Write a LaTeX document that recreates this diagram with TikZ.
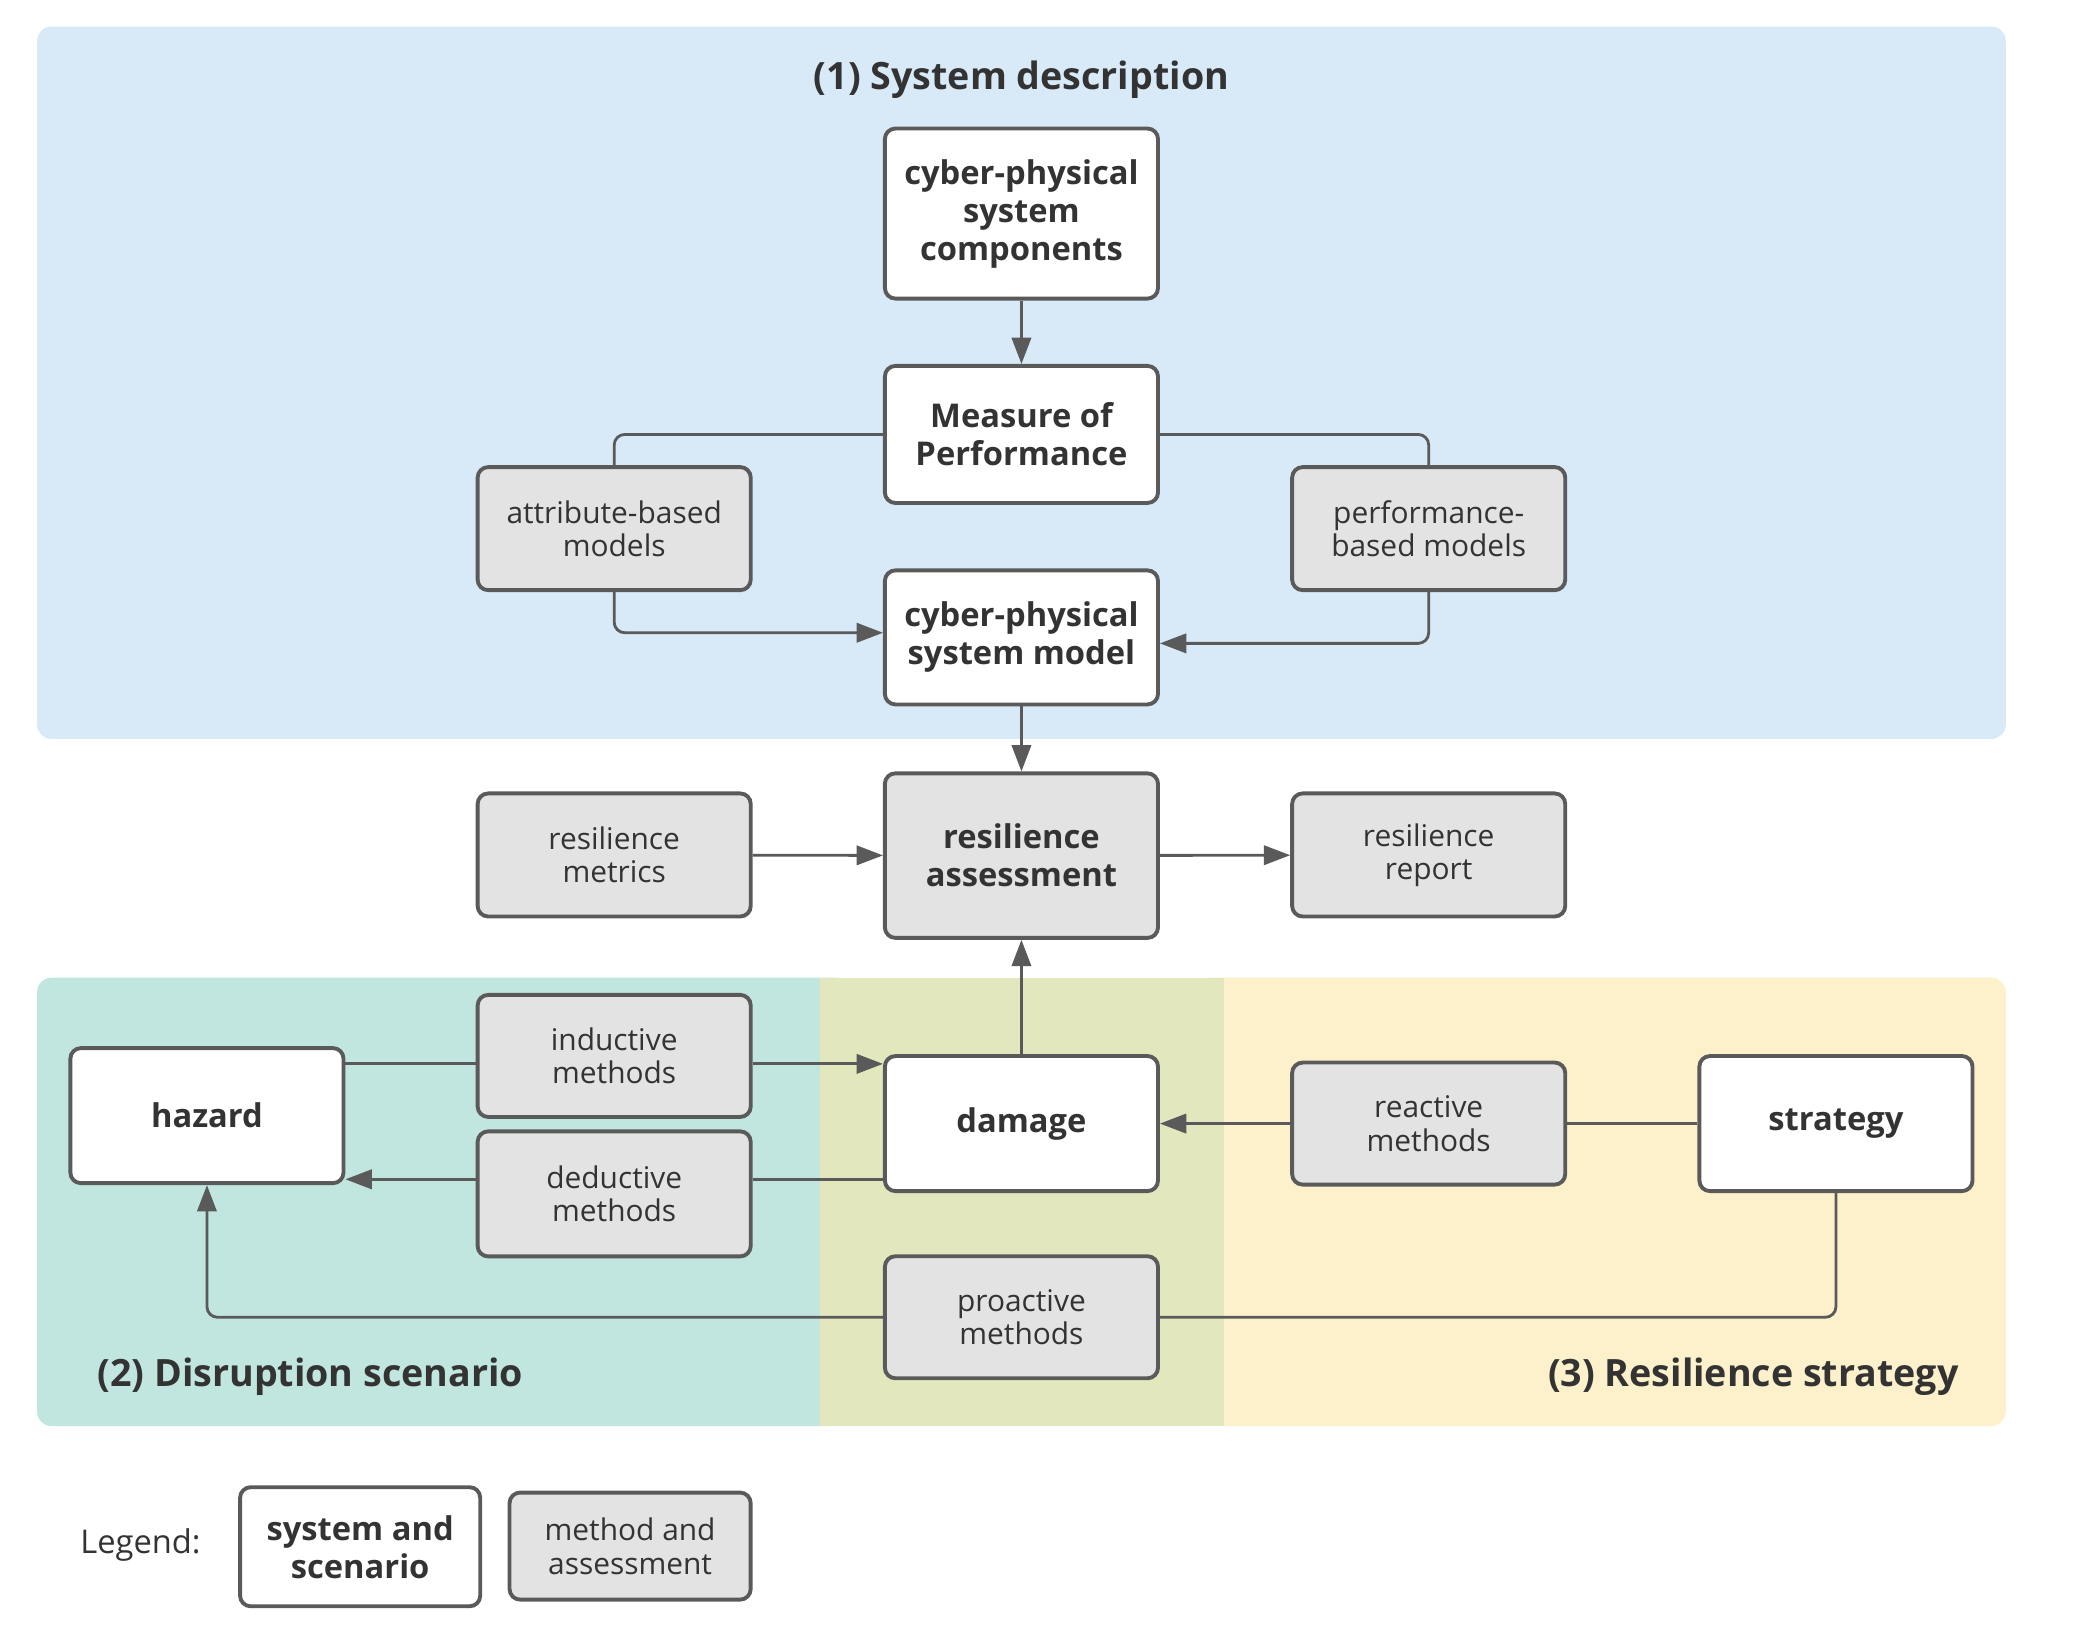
\documentclass[tikz,border=0pt]{standalone}
\usepackage{fontspec}
\setmainfont{Open Sans}
\usetikzlibrary{arrows.meta,calc}

\definecolor{panelblue}{HTML}{D8EAF8}
\definecolor{panelteal}{HTML}{C1E6DF}
\definecolor{paneloverlap}{HTML}{E3E7BD}
\definecolor{panelyellow}{HTML}{FDF1CB}
\definecolor{boxgray}{HTML}{E3E3E3}
\definecolor{linegray}{HTML}{5A5A5A}
\definecolor{textgray}{HTML}{333333}

\tikzset{
    sysbox/.style={draw=linegray, fill=white, line width=1.1pt, rounded corners=3pt,
        minimum width=2.73cm, align=center, inner sep=0pt, text=textgray,
        font=\bfseries\fontsize{9.3}{10.8}\selectfont},
    methbox/.style={sysbox, fill=boxgray, font=\fontsize{8.5}{9.5}\selectfont},
    assessbox/.style={sysbox, fill=boxgray},
    panellabel/.style={text=textgray, inner sep=0pt, font=\bfseries\fontsize{10.7}{12}\selectfont},
    link/.style={draw=linegray, line width=0.8pt, rounded corners=3pt},
}

\begin{document}
\begin{tikzpicture}[x=0.013265cm, y=-0.013265cm,
    >={Triangle[length=7.5pt, width=5.5pt]}]

    \useasboundingbox (0,0) rectangle (1568,1229.6);

    %% Panels

    % (1) System description
    \fill[panelblue, rounded corners=4pt] (28,20) rectangle (1512,557);
    \node[panellabel] (sysdesc) at (770,60) {(1) System description};

    % (2) Disruption scenario and (3) Resilience strategy
    \fill[panelteal, rounded corners=4pt] (28,737) rectangle (640,1075);
    \fill[panelyellow, rounded corners=4pt] (900,737) rectangle (1512,1075);
    \fill[paneloverlap] (618,737) rectangle (923,1075);
    \node[panellabel, anchor=west] (disrupt) at (73,1038) {(2) Disruption scenario};
    \node[panellabel, anchor=east] (resstrat) at (1477,1038) {(3) Resilience strategy};

    %% System description

    % Components and measure of performance
    \node[sysbox, minimum height=1.70cm] (cpsc) at (770,161) {cyber-physical\\system\\components};
    \node[sysbox, minimum height=1.37cm] (mop) at (770,327.5) {Measure of\\Performance};

    % Model types
    \node[methbox, minimum height=1.23cm] (attr) at (463,398.5) {attribute-based\\models};
    \node[methbox, minimum height=1.23cm] (perf) at (1077,398.5) {performance-\\based models};

    % System model
    \node[sysbox, minimum height=1.34cm] (cpsm) at (770,480.5) {cyber-physical\\system model};

    %% Resilience assessment

    \node[methbox, minimum height=1.23cm] (metrics) at (463,644.5) {resilience\\metrics};
    \node[assessbox, minimum height=1.645cm] (assess) at (770,645) {resilience\\assessment};
    \node[methbox, minimum height=1.23cm] (report) at (1077,644.5) {resilience\\report};

    %% Disruption and strategy

    \node[sysbox, minimum height=1.35cm] (hazard) at (156,841) {hazard};
    \node[methbox, minimum height=1.22cm] (induct) at (463,796) {inductive\\methods};
    \node[methbox, minimum height=1.25cm] (deduct) at (463,900) {deductive\\methods};
    \node[sysbox, minimum height=1.35cm] (damage) at (770,847) {damage};
    \node[methbox, minimum height=1.22cm] (react) at (1077,847) {reactive\\methods};
    \node[sysbox, minimum height=1.35cm] (strategy) at (1384,847) {strategy};
    \node[methbox, minimum height=1.22cm] (proact) at (770,993) {proactive\\methods};

    %% Connectors

    % Inside the system description
    \draw[link, ->] (cpsc) -- (mop);
    \draw[link] (mop.west) -| (attr.north);
    \draw[link] (mop.east) -| (perf.north);
    \draw[link, ->] (attr.south) |- ($(cpsm.west)+(0,-3.5)$);
    \draw[link, ->] (perf.south) |- ($(cpsm.east)+(0,4.5)$);

    % Into and out of the assessment
    \draw[link, ->] (cpsm) -- (assess);
    \draw[link, ->] (metrics) -- (assess);
    \draw[link, ->] (assess) -- (report);
    \draw[link, ->] (damage) -- (assess);

    % Hazard and damage
    \draw[link] ($(hazard.east)+(0,-39)$) -- ($(induct.west)+(0,6)$);
    \draw[link, ->] ($(induct.east)+(0,6)$) -- ($(damage.west)+(0,-45)$);
    \draw[link] ($(damage.west)+(0,42)$) -- ($(deduct.east)+(0,-11)$);
    \draw[link, ->] ($(deduct.west)+(0,-11)$) -- ($(hazard.east)+(0,48)$);

    % Strategy
    \draw[link] (strategy) -- (react);
    \draw[link, ->] (react) -- (damage);
    \draw[link] (strategy.south) |- (proact.east);
    \draw[link, ->] (proact.west) -| (hazard.south);

    %% Legend

    \node[anchor=west, inner sep=0pt, text=textgray, font=\fontsize{9.3}{11}\selectfont] (legend) at (60,1165) {Legend:};
    \node[sysbox, minimum width=2.40cm, minimum height=1.19cm] (legsys) at (271.5,1166) {system and\\scenario};
    \node[methbox, minimum width=2.41cm, minimum height=1.07cm] (legmeth) at (475,1165.5) {method and\\assessment};

\end{tikzpicture}
\end{document}
